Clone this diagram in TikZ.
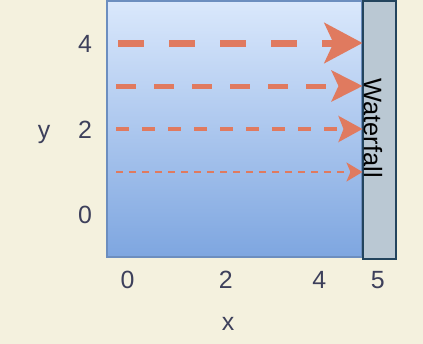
\documentclass[tikz,border=0pt]{standalone}
\usepackage{fontspec}
\setmainfont{Liberation Sans}
\usetikzlibrary{arrows.meta}
\definecolor{cream}{HTML}{F4F1DE}
\definecolor{coral}{HTML}{E07A5F}
\definecolor{slate}{HTML}{3D405B}
\definecolor{poolTop}{HTML}{DAE8FC}
\definecolor{poolBot}{HTML}{7EA6E0}
\definecolor{poolLine}{HTML}{6C8EBF}
\definecolor{fallFill}{HTML}{BAC8D3}
\definecolor{fallLine}{HTML}{23445D}

\begin{document}
\begin{tikzpicture}[x=1bp,y=-1bp,
  tick/.style={text=slate,font=\fontsize{25}{30}\selectfont,anchor=base,inner sep=0pt},
  flow/.style={draw=coral,line cap=butt}]
\fill[cream] (0,0) rectangle (423,344);
\useasboundingbox (0,0) rectangle (423,344);
% pool and waterfall
\node (pool) [draw=poolLine,line width=1.5bp,top color=poolTop,bottom color=poolBot,
  minimum width=255bp,minimum height=256bp,inner sep=0pt,outer sep=0pt] at (234.5,129) {};
\node (fall) [draw=fallLine,fill=fallFill,line width=2bp,
  minimum width=33bp,minimum height=258bp,inner sep=0pt,outer sep=0pt] at (379,130) {};
\node (fallText) [rotate=-90,font=\fontsize{25.5}{30}\selectfont,inner sep=0pt] at (373,128) {Waterfall};
% flows
\coordinate (s4) at (118,43);
\coordinate (s3) at (116,86);
\coordinate (s2) at (116,129);
\coordinate (s1) at (116,172);
\draw[flow,line width=7bp,dash pattern=on 26bp off 25bp,-{Stealth[length=38bp,width=40bp,inset=9bp]}] (s4) -- (s4 -| fall.west);
\draw[flow,line width=5bp,dash pattern=on 20bp off 18bp,-{Stealth[length=31bp,width=31bp,inset=7bp]}] (s3) -- (s3 -| fall.west);
\draw[flow,line width=3.5bp,dash pattern=on 13bp off 13bp,-{Stealth[length=24bp,width=26bp,inset=5bp]}] (s2) -- (s2 -| fall.west);
\draw[flow,line width=2bp,dash pattern=on 7bp off 6bp,-{Stealth[length=16bp,width=19bp,inset=4bp]}] (s1) -- (s1 -| fall.west);
% axes labels
\node (y4) [tick] at (85,52.7) {4};
\node (y2) [tick] at (85,138.3) {2};
\node (y0) [tick] at (85,223.3) {0};
\node (ylab) [tick] at (44,138.3) {y};
\node (x0) [tick] at (127.5,288.3) {0};
\node (x2) [tick] at (225.7,288.3) {2};
\node (x4) [tick] at (319.3,288.3) {4};
\node (x5) [tick] at (377.7,288.3) {5};
\node (xlab) [tick] at (228,330.7) {x};
\end{tikzpicture}
\end{document}
